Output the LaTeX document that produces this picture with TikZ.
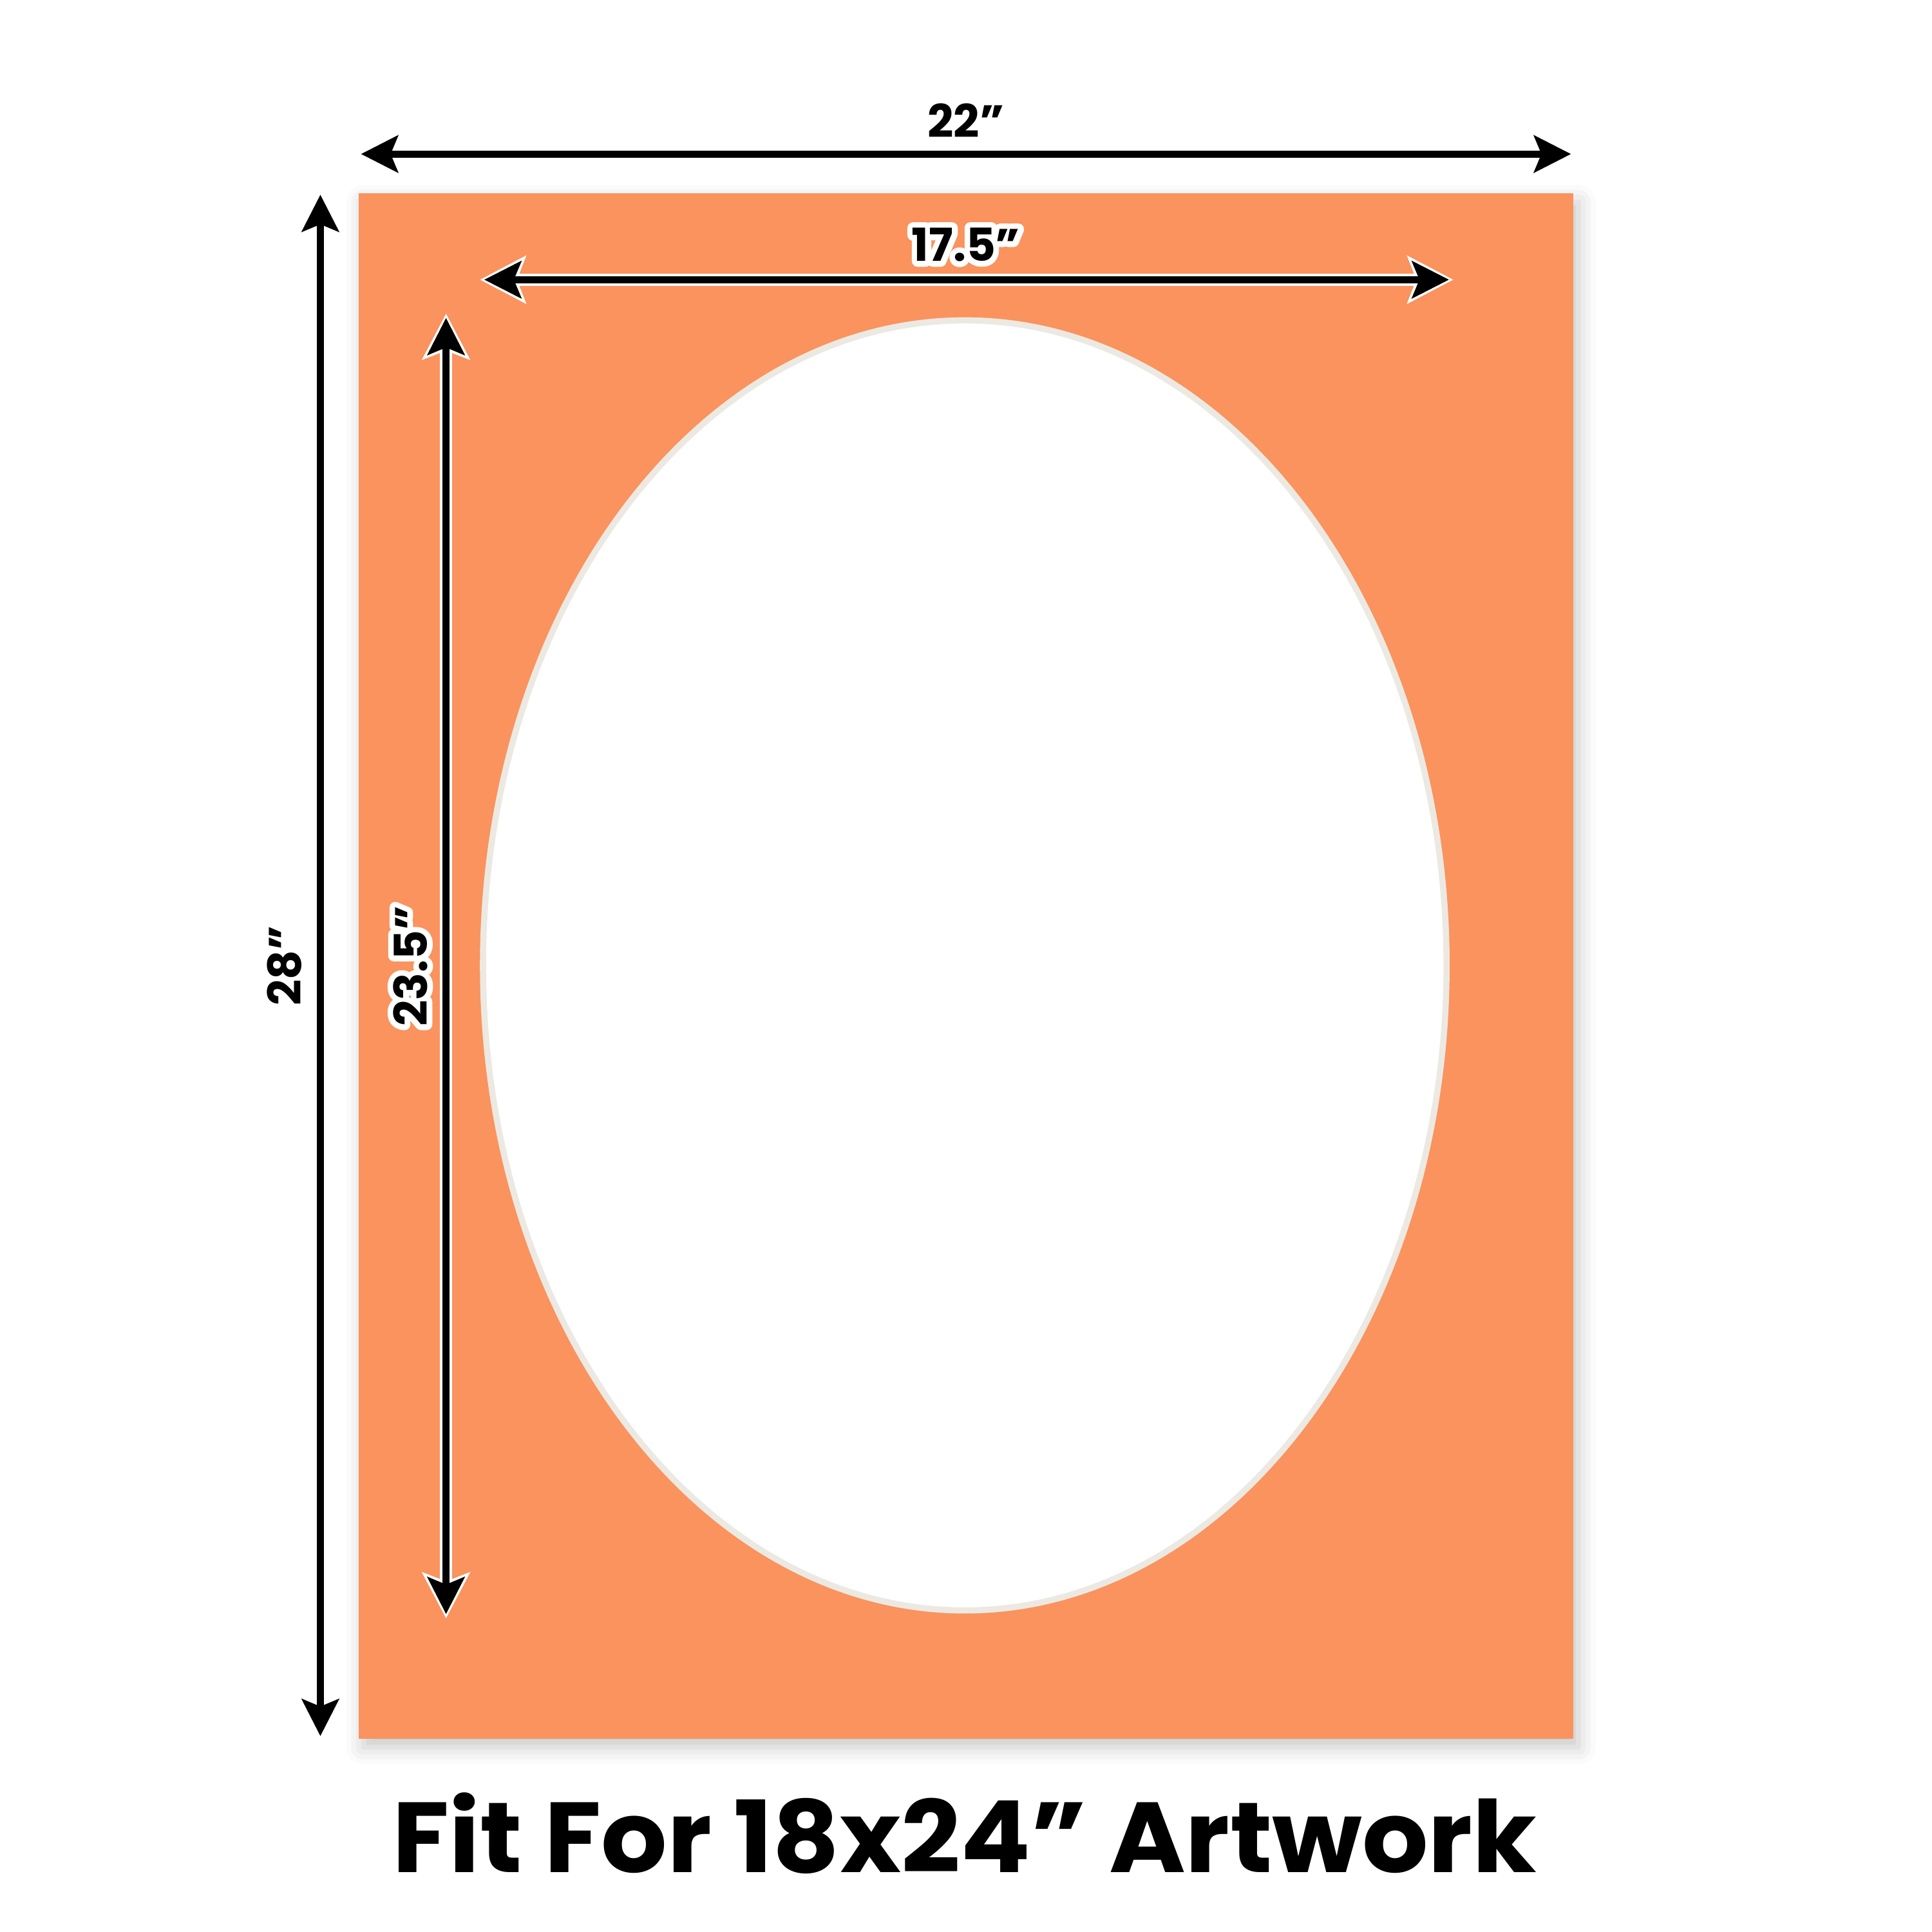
\documentclass[tikz,border=0pt]{standalone}
\usepackage{fontspec}
\setmainfont{Poppins}
\usepackage{xcolor}
\usetikzlibrary{arrows.meta, shapes.geometric, shadows.blur}
\definecolor{mat}{HTML}{FA935E}
\definecolor{bevel}{HTML}{ECE9E2}
% stroked copy of a label, drawn under the label as its white rim
\newcommand{\rimtext}[1]{\special{pdf:literal direct 1 Tr 2.6 w 1 j}#1\special{pdf:literal direct 0 Tr}}

\begin{document}
\begin{tikzpicture}[
      > = {Stealth[length=0.30cm, width=0.30cm, inset=0.06cm]}, % arrow head style
      line width = 0.056cm, % line style
    ]

    \tikzstyle{dim}=[<->, black]
    \tikzstyle{dimw}=[<->, black,
      preaction = {draw = white, line width = 0.10cm,
        {Stealth[length=0.37cm, width=0.38cm, inset=0.07cm]}-{Stealth[length=0.37cm, width=0.38cm, inset=0.07cm]},
        shorten < = -0.035cm, shorten > = -0.035cm}]
    \tikzstyle{lbl}=[font = \bfseries\fontsize{10.5pt}{12pt}\selectfont, inner sep = 0pt]
    \tikzstyle{rim}=[lbl, text = white]
    \tikzstyle{caption}=[font = \bfseries\fontsize{23pt}{26pt}\selectfont\addfontfeatures{FakeStretch=1.043},
      inner sep = 0pt, anchor = base]

    \useasboundingbox (0, 0) rectangle (15.68, -15.68);

    % mat board and oval opening
    \fill[mat, blur shadow = {shadow xshift = 0.04cm, shadow yshift = -0.07cm,
      shadow blur radius = 0.14cm, shadow opacity = 22}]
      (2.91, -1.57) rectangle (12.77, -14.11);
    \node[ellipse, draw = bevel, line width = 0.05cm, fill = white,
      minimum width = 7.82cm, minimum height = 10.47cm, inner sep = 0pt]
      (oval) at (7.83, -7.835) {};

    % arrow ends
    \coordinate (tl) at (2.93, -1.25);
    \coordinate (tr) at (12.75, -1.25);
    \coordinate (lt) at (2.60, -1.58);
    \coordinate (lb) at (2.60, -14.09);
    \coordinate (il) at (3.93, -2.27);
    \coordinate (ir) at (11.76, -2.27);
    \coordinate (it) at (3.62, -2.58);
    \coordinate (ib) at (3.62, -13.10);

    \draw[dim] (tl) -- (tr);
    \draw[dim] (lt) -- (lb);
    \draw[dimw] (il) -- (ir);
    \draw[dimw] (it) -- (ib);

    % labels
    \node[lbl] (w) at (7.84, -0.977) {22”};
    \node[lbl, rotate = 90] (h) at (2.31, -7.836) {28”};
    \node[rim] at (7.84, -1.986) {\rimtext{17.5”}};
    \node[lbl] (iw) at (7.84, -1.986) {17.5”};
    \node[rim, rotate = 90] at (3.33, -7.84) {\rimtext{23.5”}};
    \node[lbl, rotate = 90] (ih) at (3.33, -7.84) {23.5”};

    \node[caption] (fit) at (7.83, -15.196) {Fit For 18x24” Artwork};
  \end{tikzpicture}
\end{document}
